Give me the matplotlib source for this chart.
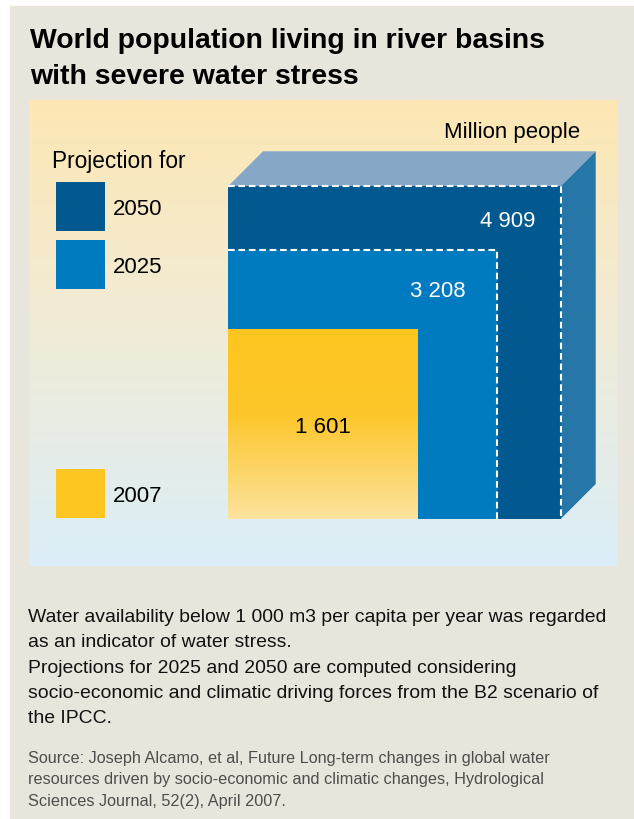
import numpy as np
import matplotlib.pyplot as plt
from matplotlib.patches import Rectangle, Polygon
from matplotlib.colors import LinearSegmentedColormap

# données (millions de personnes)
years = ['2007', '2025', '2050']
values = [1601, 3208, 4909]
labels = ['1 601', '3 208', '4 909']
colors = ['#fdc51f', '#007bbf', '#02598f']

plt.rcParams['font.family'] = ['Liberation Sans', 'DejaVu Sans']

fig = plt.figure(figsize=(6.34, 8.2), dpi=100)
fig.patch.set_facecolor('white')
ax = fig.add_axes([0, 0, 1, 1])

# fond beige
ax.add_patch(Rectangle((10, 7), 624, 813, color='#e8e6dc', zorder=0))

# panneau avec dégradé jaune -> bleu clair
panel_cmap = LinearSegmentedColormap.from_list(
    'panel', [(0, '#fde7b3'), (0.45, '#f2ebd4'), (1, '#dbeef8')])
grad = np.linspace(0, 1, 256).reshape(-1, 1)
ax.imshow(grad, cmap=panel_cmap, extent=(29, 617, 567, 101), aspect='auto', zorder=1)

# carrés proportionnels (aire ~ valeur)
x0, base = 228, 520
k = 190 / np.sqrt(values[0])
sides = [k * np.sqrt(v) for v in values]
d = 35  # profondeur 3D

# faces 3D du plus grand carré
s = sides[2]
top = base - s
ax.add_patch(Polygon([(x0, top), (x0 + d, top - d), (x0 + s + d, top - d), (x0 + s, top)],
                     closed=True, color='#86a8c6', zorder=2, lw=0))
ax.add_patch(Polygon([(x0 + s, top), (x0 + s + d, top - d), (x0 + s + d, base - d), (x0 + s, base)],
                     closed=True, color='#2677a8', zorder=2, lw=0))

for i in [2, 1]:
    s = sides[i]
    ax.bar(x0, -s, width=s, bottom=base, align='edge', color=colors[i], zorder=3 + (2 - i))
    ax.plot([x0, x0 + s, x0 + s], [base - s, base - s, base], color='white', lw=1.5,
            ls=(0, (3.2, 1.8)), zorder=5, dash_capstyle='butt')

# carré 2007 en dégradé
s = sides[0]
yel_cmap = LinearSegmentedColormap.from_list(
    'yel', [(0, '#fdc51f'), (0.45, '#fcc62a'), (1, '#fde39e')])
ax.imshow(grad, cmap=yel_cmap, extent=(x0, x0 + s, base, base - s), aspect='auto', zorder=6)

# étiquettes des valeurs
ax.text(x0 + sides[2] - 25, base - sides[2] + 40, labels[2], color='white', fontsize=16,
        ha='right', va='baseline', zorder=7)
ax.text(x0 + sides[1] - 31, base - sides[1] + 46, labels[1], color='white', fontsize=16,
        ha='right', va='baseline', zorder=7)
ax.text(x0 + sides[0] / 2, base - sides[0] / 2 + 8, labels[0], color='black', fontsize=16,
        ha='center', va='baseline', zorder=7)

# légende
ax.text(52, 168, 'Projection for', fontsize=16.3, va='baseline', zorder=7)
leg_top = {'2050': 183, '2025': 241, '2007': 470}
for yr, c in zip(years, colors):
    ax.add_patch(Rectangle((56, leg_top[yr]), 49, 49, color=c, zorder=7, lw=0))
    ax.text(113, leg_top[yr] + 32, yr, fontsize=16, va='baseline', zorder=7)

ax.text(580, 138, 'Million people', fontsize=16, ha='right', va='baseline', zorder=7)

# titre
ax.text(30, 48.5, 'World population living in river basins', fontsize=20.4,
        fontweight='bold', va='baseline')
ax.text(30, 84.5, 'with severe water stress', fontsize=20.4, fontweight='bold', va='baseline')

# notes
notes = ['Water availability below 1 000 m3 per capita per year was regarded',
         'as an indicator of water stress.',
         'Projections for 2025 and 2050 are computed considering',
         'socio-economic and climatic driving forces from the B2 scenario of',
         'the IPCC.']
for i, line in enumerate(notes):
    ax.text(28, 622 + 25.3 * i, line, fontsize=13.95, va='baseline', color='#111111')

source = ['Source: Joseph Alcamo, et al, Future Long-term changes in global water',
          'resources driven by socio-economic and climatic changes, Hydrological',
          'Sciences Journal, 52(2), April 2007.']
for i, line in enumerate(source):
    ax.text(28, 763 + 21.5 * i, line, fontsize=11.7, va='baseline', color='#4d4d4d')

ax.set_xlim(0, 634)
ax.set_ylim(820, 0)
ax.axis('off')

plt.savefig('out.png', dpi=100)
plt.close()
